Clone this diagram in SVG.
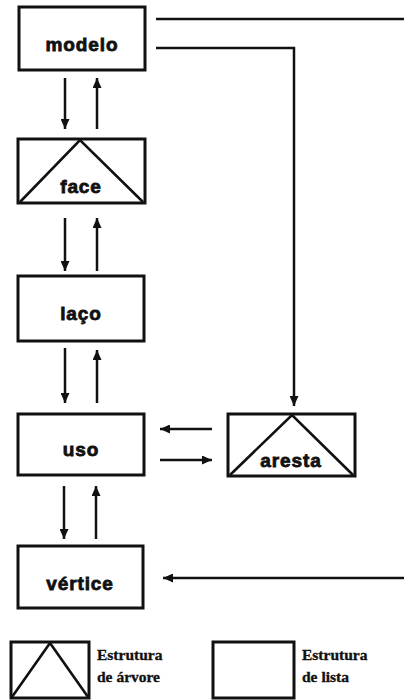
<svg xmlns="http://www.w3.org/2000/svg" width="404" height="700" viewBox="0 0 404 700">
<defs>
<marker id="ah" markerUnits="userSpaceOnUse" markerWidth="10" markerHeight="9" refX="10" refY="4.5" orient="auto">
<path d="M0,0 L10,4.5 L0,9 z" fill="#111"/>
</marker>
<style>
.box{fill:#fff;stroke:#111;stroke-width:3}
.tri{fill:none;stroke:#111;stroke-width:2.6}
.lbl{font-family:"Liberation Sans",Arial,sans-serif;font-weight:bold;font-size:19px;letter-spacing:0.9px;fill:#111;stroke:#111;stroke-width:0.8;text-anchor:middle}
.leg{font-family:"Liberation Serif","Times New Roman",serif;font-weight:bold;font-size:15.5px;fill:#111;stroke:#111;stroke-width:0.35}
.c{fill:none;stroke:#111;stroke-width:2.5}
.a{fill:none;stroke:#111;stroke-width:2.5;marker-end:url(#ah)}
</style>
</defs>
<rect width="404" height="700" fill="#fff"/>
<g id="connectors">
<line class="c" x1="156" y1="19" x2="404" y2="19"/>
<polyline class="a" points="156,48 294,48 294,406"/>
<line class="a" x1="65" y1="78" x2="65" y2="129"/>
<line class="a" x1="97" y1="129" x2="97" y2="78"/>
<line class="a" x1="65" y1="218" x2="65" y2="271"/>
<line class="a" x1="97" y1="271" x2="97" y2="218"/>
<line class="a" x1="65" y1="348" x2="65" y2="403"/>
<line class="a" x1="97" y1="403" x2="97" y2="350"/>
<line class="a" x1="212" y1="429" x2="160" y2="429"/>
<line class="a" x1="160" y1="460" x2="212" y2="460"/>
<line class="a" x1="64" y1="486" x2="64" y2="539"/>
<line class="a" x1="96" y1="539" x2="96" y2="486"/>
<line class="a" x1="404" y1="578" x2="163" y2="578"/>
</g>
<g id="modelo">
<rect class="box" x="19" y="7" width="126" height="63"/>
<text class="lbl" x="82" y="51">modelo</text>
</g>
<g id="face">
<rect class="box" x="18" y="139" width="127" height="64"/>
<polyline class="tri" points="20,202 80,140 143,202"/>
<text class="lbl" x="81" y="193">face</text>
</g>
<g id="laco">
<rect class="box" x="18" y="276" width="126" height="65"/>
<text class="lbl" x="81" y="320">laço</text>
</g>
<g id="uso">
<rect class="box" x="18" y="414" width="126" height="61"/>
<text class="lbl" x="81" y="456">uso</text>
</g>
<g id="aresta">
<rect class="box" x="228" y="414" width="127" height="62"/>
<polyline class="tri" points="230,475 292,415 353,475"/>
<text class="lbl" x="291" y="467">aresta</text>
</g>
<g id="vertice">
<rect class="box" x="18" y="546" width="125" height="62"/>
<text class="lbl" x="80" y="590">vértice</text>
</g>
<g id="legend-tree">
<rect class="box" x="11" y="642" width="78" height="56"/>
<polyline class="tri" points="12,697 50,643 88,697"/>
<text class="leg" x="97" y="660">Estrutura</text>
<text class="leg" x="97" y="682">de árvore</text>
</g>
<g id="legend-list">
<rect class="box" x="213" y="642" width="81" height="56"/>
<text class="leg" x="302" y="660">Estrutura</text>
<text class="leg" x="302" y="682">de lista</text>
</g>
</svg>
